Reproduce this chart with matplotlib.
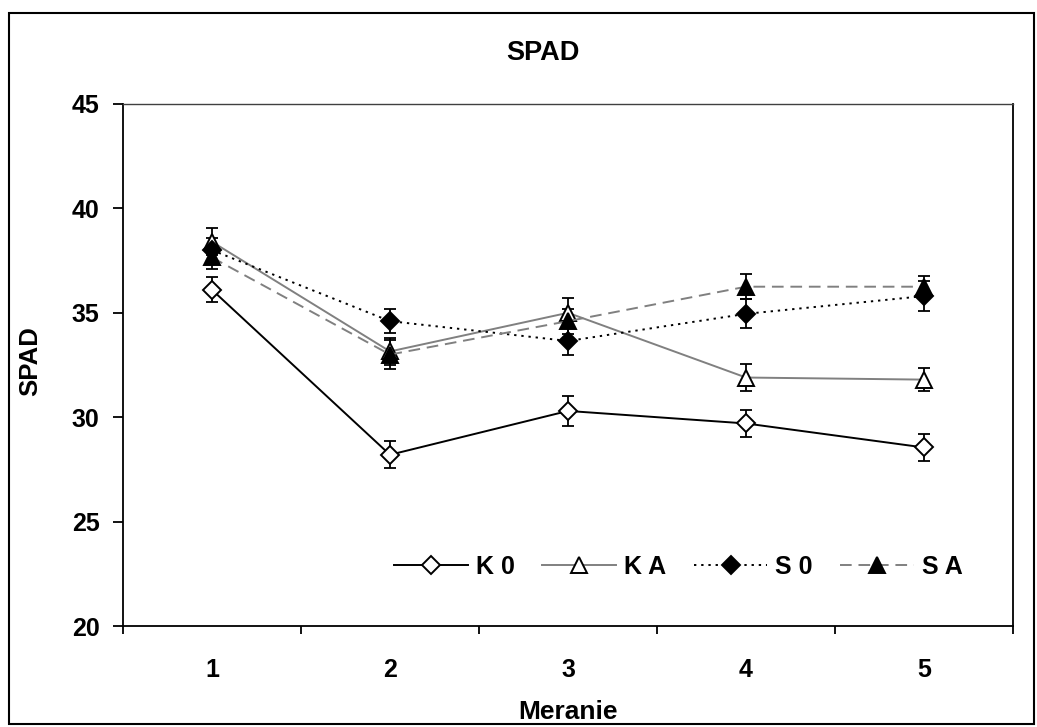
import matplotlib
matplotlib.use("Agg")
import matplotlib.pyplot as plt
from matplotlib.patches import Rectangle

plt.rcParams['font.family'] = ['Liberation Sans', 'DejaVu Sans']
plt.rcParams['font.weight'] = 'bold'

x = [1, 2, 3, 4, 5]
xlabels = ['1', '2', '3', '4', '5']
k0 = [36.1, 28.2, 30.3, 29.7, 28.55]
ka = [38.4, 33.15, 35.0, 31.9, 31.8]
s0 = [38.0, 34.6, 33.65, 34.95, 35.8]
sa = [37.65, 33.0, 34.6, 36.25, 36.25]
k0_err = [0.6, 0.65, 0.7, 0.65, 0.65]
ka_err = [0.65, 0.65, 0.7, 0.65, 0.55]
s0_err = [0.6, 0.57, 0.65, 0.7, 0.7]
sa_err = [0.55, 0.7, 0.6, 0.6, 0.5]

W, H = 1037, 727
fig = plt.figure(figsize=(W/100, H/100), dpi=100)
ax = fig.add_axes([123/W, 1-626/H, (1013-123)/W, (626-104)/H])

series = [
    (k0, k0_err, 'K 0', dict(color='black', ls='-', marker='D', ms=9, mfc='white', mec='black')),
    (ka, ka_err, 'K A', dict(color='#808080', ls='-', marker='^', ms=12, mfc='white', mec='black')),
    (s0, s0_err, 'S 0', dict(color='black', ls=(0, (1.2, 2.5)), marker='D', ms=9, mfc='black', mec='black')),
    (sa, sa_err, 'S A', dict(color='#808080', ls=(0, (6, 3.5)), marker='^', ms=12, mfc='black', mec='black')),
]
handles = []
for vals, err, lab, st in series:
    ax.errorbar(x, vals, yerr=err, fmt='none', ecolor='black', elinewidth=1.3, capsize=4.5, capthick=1.3, zorder=3)
    h, = ax.plot(x, vals, label=lab, lw=1.4, mew=1.4, zorder=4, **st)
    handles.append(h)

ax.set_xlim(0.5, 5.5)
ax.set_ylim(20, 45)
ax.set_yticks([20, 25, 30, 35, 40, 45])
ax.set_xticks(x)
ax.set_xticklabels(xlabels)
ax.set_xticks([0.5, 1.5, 2.5, 3.5, 4.5, 5.5], minor=True)
ax.tick_params(axis='x', which='major', length=0, pad=23, labelsize=18)
ax.tick_params(axis='x', which='minor', length=6, width=1.3, direction='out')
ax.tick_params(axis='y', length=7, width=1.3, direction='out', pad=10, labelsize=18)
for s in ax.spines.values():
    s.set_linewidth(1.3)
    s.set_color('black')
ax.spines['top'].set_linewidth(1.0)
ax.spines['top'].set_color('#404040')

fig.text(542.5/W, 1-53/H, 'SPAD', fontsize=19.5, fontweight='bold', ha='center', va='center')
ax.set_xlabel('Meranie', fontsize=19, fontweight='bold')
ax.xaxis.set_label_coords(0.5, (626-700)/522)
ax.set_ylabel('SPAD', fontsize=18.5, fontweight='bold')
ax.yaxis.set_label_coords((42-123)/890, (626-361)/522)

leg = ax.legend(handles=handles, loc='center right', ncol=4, frameon=False, fontsize=18,
                handlelength=2.95, columnspacing=1.1, handletextpad=0.32,
                borderpad=0, borderaxespad=0,
                bbox_to_anchor=((963-123)/890, (626-567)/522))

fig.patches.append(Rectangle((9/W, 1-724/H), (1034-9)/W, (724-13)/H, transform=fig.transFigure,
                             fill=False, edgecolor='black', lw=1.5))
fig.savefig('out.png', dpi=100)
